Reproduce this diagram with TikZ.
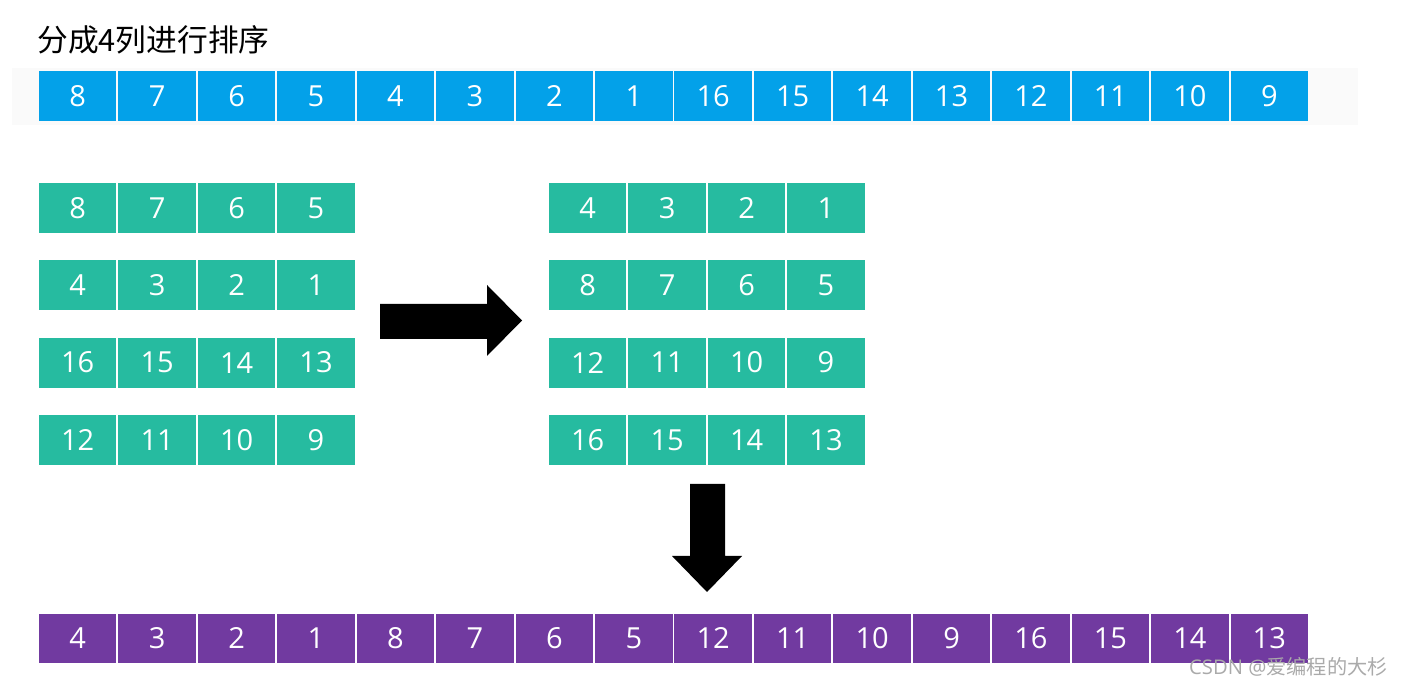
\documentclass[tikz,border=0pt]{standalone}
\usepackage{fontspec}
\setsansfont{Open Sans}
\newfontfamily\cjk{Noto Sans CJK SC}
\definecolor{SortBlue}{RGB}{3,161,233}
\definecolor{SortTeal}{RGB}{38,187,160}
\definecolor{SortPurple}{RGB}{113,58,160}
\definecolor{BandGray}{RGB}{250,250,250}
\definecolor{MarkGray}{RGB}{170,170,170}
\tikzset{
  cell/.style={minimum width=1.55cm,minimum height=1.0cm,inner sep=0pt,
    text=white,font=\sffamily\fontsize{16.5}{16.5}\selectfont},
  bluecell/.style={cell,fill=SortBlue},
  tealcell/.style={cell,fill=SortTeal},
  purplecell/.style={cell,fill=SortPurple},
  blockarrow/.style={fill=black}
}

\begin{document}
\begin{tikzpicture}[x=0.02cm,y=-0.02cm]
  \useasboundingbox (0,0) rectangle (1403,688);
  \fill[BandGray] (12,68) rectangle (1358,125);
  \node[anchor=base west,inner sep=0pt,font=\cjk\fontsize{17.5}{17.5}\selectfont] (title) at (37,52) {分成4列进行排序};
  % original sequence
  \foreach \v [count=\i from 0] in {8,7,6,5,4,3,2,1,16,15,14,13,12,11,10,9}
    \node[bluecell] (b\i) at (77.7+79.44*\i,96.5) {\v};
  % four columns, before and after sorting
  \foreach \row [count=\r from 0] in {{8,7,6,5},{4,3,2,1},{16,15,14,13},{12,11,10,9}}
    \foreach \v [count=\c from 0] in \row
      \node[tealcell] (l\r\c) at (77.7+79.44*\c,208+77.3*\r) {\v};
  \foreach \row [count=\r from 0] in {{4,3,2,1},{8,7,6,5},{12,11,10,9},{16,15,14,13}}
    \foreach \v [count=\c from 0] in \row
      \node[tealcell] (r\r\c) at (587.7+79.44*\c,208+77.3*\r) {\v};
  % result
  \foreach \v [count=\i from 0] in {4,3,2,1,8,7,6,5,12,11,10,9,16,15,14,13}
    \node[purplecell] (p\i) at (77.7+79.44*\i,638.5) {\v};
  % block arrows
  \fill[blockarrow] (380,304) -- (487,304) -- (487,285) -- (522,320.5)
    -- (487,356) -- (487,339) -- (380,339) -- cycle;
  \fill[blockarrow] (690,484) -- (725,484) -- (725,556) -- (742,556)
    -- (707,592) -- (672,556) -- (690,556) -- cycle;
  \node[anchor=base east,inner sep=0pt,text=MarkGray,font=\sffamily\fontsize{11.5}{11.5}\selectfont] (mark) at (1388,675) {CSDN @{\cjk 爱编程的大杉}};
\end{tikzpicture}
\end{document}
